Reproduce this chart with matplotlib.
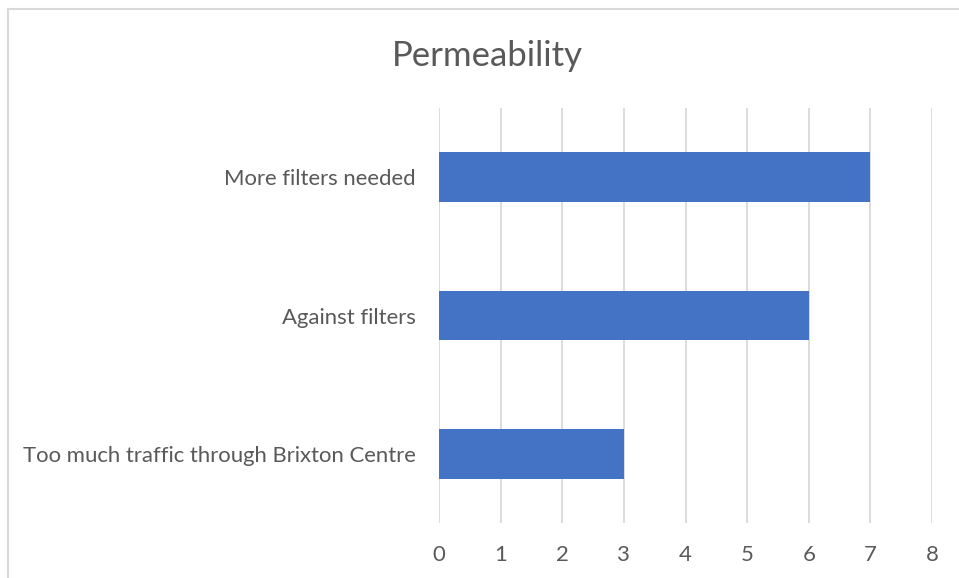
import matplotlib
matplotlib.use("Agg")
import matplotlib.pyplot as plt
from matplotlib.patches import Rectangle

categories = ["Too much traffic through Brixton Centre", "Against filters", "More filters needed"]
values = [3, 6, 7]
xticks = [0, 1, 2, 3, 4, 5, 6, 7, 8]
title = "Permeability"

plt.rcParams['font.family'] = ['Lato', 'DejaVu Sans']
W, H = 959, 578
fig = plt.figure(figsize=(W/100, H/100), dpi=100)
ax = fig.add_axes([439/W, 1-523/H, (932-439)/W, (523-108)/H])

ax.barh(range(len(categories)), values, height=0.36, color="#4472C4", zorder=3)
ax.set_xlim(0, 8)
ax.set_ylim(-0.5, 2.5)
ax.set_xticks(xticks)
ax.set_xticklabels([str(t) for t in xticks])
ax.set_yticks(range(len(categories)))
ax.set_yticklabels(categories)
ax.grid(axis='x', color="#D9D9D9", linewidth=1.3, zorder=0)
for s in ax.spines.values():
    s.set_visible(False)
ax.tick_params(axis='both', length=0, labelsize=15.9, colors="#595959")
ax.tick_params(axis='x', pad=16)
ax.tick_params(axis='y', pad=17)

fig.text(487/W, 1-56/H, title, ha='center', va='center', fontsize=25, color="#595959")

fig.patches.append(Rectangle((8/W, -0.1), 1.2, 1-9/H+0.1, transform=fig.transFigure,
                             fill=False, edgecolor="#D9D9D9", linewidth=1.5))

fig.savefig("out.png", dpi=100)
